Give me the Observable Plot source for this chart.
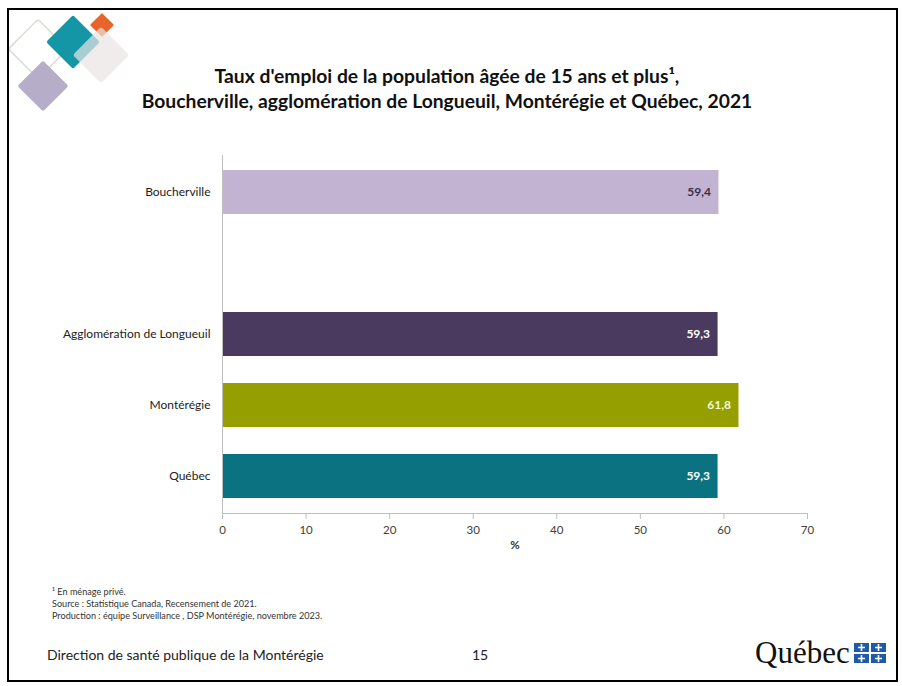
<!DOCTYPE html>
<html><head><meta charset="utf-8">
<script src="https://cdn.jsdelivr.net/npm/d3@7"></script>
<script src="https://cdn.jsdelivr.net/npm/@observablehq/plot@0.6"></script>
<style>
body{margin:0;background:#fff;font-family:Lato,sans-serif;}
#page{position:relative;width:902px;height:686px;overflow:hidden;background:#fff;}
#frame{position:absolute;left:7px;top:8px;width:891px;height:674px;border:2px solid #000;box-sizing:border-box;}
.t{position:absolute;white-space:nowrap;}
#title{left:0;width:894px;top:63px;text-align:center;font-weight:bold;font-size:19.3px;line-height:25px;color:#111;}
#chart{position:absolute;left:0;top:140px;}
#notes{left:52px;top:586px;font-size:9.1px;line-height:12px;color:#333;}
#dir{left:47px;top:646px;font-size:14px;color:#222;}
#pg{left:472px;top:646px;font-size:14px;color:#222;}
</style></head>
<body><div id="page">
<svg width="150" height="120" style="position:absolute;left:0;top:0">
  <rect x="-21" y="-21" width="42" height="42" rx="3" transform="translate(38,49) rotate(45)" fill="none" stroke="#d9dfd4" stroke-width="1.5"/>
  <rect x="-18" y="-18" width="36" height="36" rx="2" transform="translate(43,86) rotate(45)" fill="#b6aec9"/>
  <rect x="-19" y="-19" width="38" height="38" rx="2" transform="translate(73,42) rotate(45)" fill="#1496a6"/>
  <rect x="-8.5" y="-8.5" width="17" height="17" rx="1" transform="translate(102,25) rotate(45)" fill="#e8642a"/>
  <rect x="-20" y="-20" width="40" height="40" rx="3" transform="translate(101,55) rotate(45)" fill="#e8e4e2" fill-opacity="0.7"/>
</svg>
<div id="frame"></div>
<div class="t" id="title">Taux d'emploi de la population âgée de 15 ans et plus¹,<br>Boucherville, agglomération de Longueuil, Montérégie et Québec, 2021</div>
<div id="chart"></div>
<div class="t" id="notes">¹ En ménage privé.<br>Source : Statistique Canada, Recensement de 2021.<br>Production : équipe Surveillance , DSP Montérégie, novembre 2023.</div>
<div class="t" id="dir">Direction de santé publique de la Montérégie</div>
<div class="t" id="pg">15</div>
<svg width="150" height="40" style="position:absolute;left:750px;top:632px">
  <text x="5" y="31" font-family="'Liberation Serif',serif" font-size="31" fill="#111">Québec</text>
  <g fill="#1d5aa8">
    <rect x="104" y="11" width="15" height="9"/><rect x="121" y="11" width="15" height="9"/>
    <rect x="104" y="22" width="15" height="9"/><rect x="121" y="22" width="15" height="9"/>
  </g>
  <g stroke="#fff" stroke-width="1.6">
    <path d="M111.5 12v7M108 15.5h7M128.5 12v7M125 15.5h7M111.5 23v7M108 26.5h7M128.5 23v7M125 26.5h7"/>
  </g>
</svg>
</div>
<script>
const categories = ["Boucherville", "Agglomération de Longueuil", "Montérégie", "Québec"];
const values = [59.4, 59.3, 61.8, 59.3];
const barColors = ["#c1b3d1", "#4b3a5f", "#95a000", "#0b7281"];
const labelColors = ["#3b2f4f", "#ffffff", "#f4f6d8", "#ffffff"];
const yDomain = ["Boucherville", " ", "Agglomération de Longueuil", "Montérégie", "Québec"];
const xTicks = [0, 10, 20, 30, 40, 50, 60, 70];

const data = categories.map((c, i) => ({cat: c, v: values[i], color: barColors[i], lc: labelColors[i], label: values[i].toFixed(1).replace(".", ",")}));

const chart = Plot.plot({
  width: 860, height: 430,
  marginLeft: 222, marginRight: 53, marginTop: 15, marginBottom: 57,
  style: {fontFamily: "Lato, sans-serif", background: "transparent"},
  x: {domain: [0, 70], ticks: xTicks, label: null},
  y: {domain: yDomain, paddingInner: 0.385, paddingOuter: 0.1925, label: null},
  marks: [
    Plot.barX(data, {x: "v", y: "cat", fill: "color"}),
    Plot.text(data, {x: "v", y: "cat", text: "label", fill: "lc", textAnchor: "end", dx: -8, fontSize: 12, fontWeight: "bold"}),
    Plot.ruleX([0], {stroke: "#bfbfbf"}),
    Plot.frame({anchor: "bottom", stroke: "#bfbfbf"}),
    Plot.axisX({ticks: xTicks, tickSize: 6, tickPadding: 6, stroke: "#bfbfbf", fill: "#404040", fontSize: 11.5, label: null}),
    Plot.axisY({tickSize: 0, tickPadding: 12, fill: "#222", fontSize: 12, label: null}),
    Plot.text(["%"], {frameAnchor: "bottom", dy: 35, text: d => d, fontWeight: "bold", fontSize: 11.5, fill: "#333"})
  ]
});
document.getElementById("chart").appendChild(chart);
</script>
</body></html>
